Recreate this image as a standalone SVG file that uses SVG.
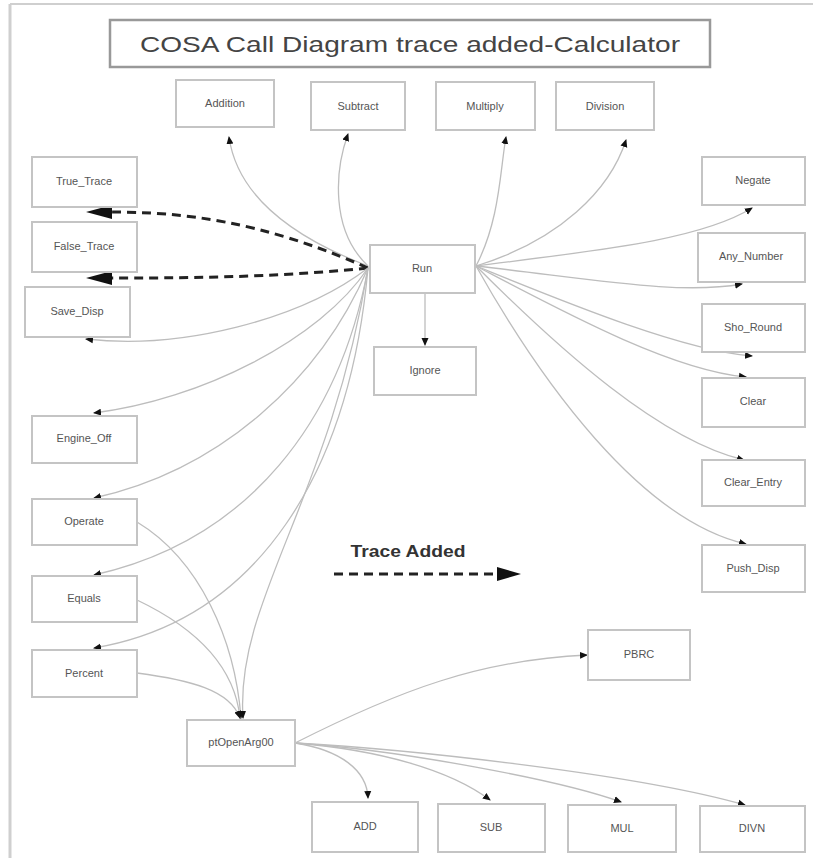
<svg xmlns="http://www.w3.org/2000/svg" width="813" height="858" viewBox="0 0 813 858">
<defs>
<style>
.n rect{fill:#fff;stroke:#c4c4c4;stroke-width:2}
.n text{font-family:"Liberation Sans",Arial,sans-serif;font-size:11px;fill:#555;text-anchor:middle}
.e path{fill:none;stroke:#bdbdbd;stroke-width:1.3}
.e path.t{stroke:#222;stroke-width:3;stroke-dasharray:9 6}
.e polygon{fill:#111}
</style>
<marker id="a" markerWidth="8" markerHeight="8" refX="7" refY="4" orient="auto" markerUnits="userSpaceOnUse"><path d="M0,0.5 L8,4 L0,7.5 Z" fill="#111"/></marker>
</defs>
<rect width="813" height="858" fill="#fff"/>
<line x1="10" y1="4" x2="10" y2="858" stroke="#cfcfcf" stroke-width="3"/>
<line x1="10" y1="4" x2="813" y2="4" stroke="#cfcfcf" stroke-width="2"/>
<g id="title" class="n"><rect x="110" y="20" width="600" height="47" style="stroke:#999;stroke-width:2.5"/><text x="410" y="52" textLength="540" lengthAdjust="spacingAndGlyphs" style="font-size:22px;fill:#444">COSA Call Diagram trace added-Calculator</text></g>
<g id="edges" class="e">
<path d="M368,266 C300,240 238,200 229,137" marker-end="url(#a)"/>
<path d="M368,266 C330,230 335,170 348,134" marker-end="url(#a)"/>
<path d="M476,266 C500,220 500,170 506,137" marker-end="url(#a)"/>
<path d="M476,266 C560,240 610,190 626,140" marker-end="url(#a)"/>
<path d="M476,266 C600,250 700,240 752,208" marker-end="url(#a)"/>
<path d="M476,266 C600,280 680,295 742,284" marker-end="url(#a)"/>
<path d="M476,266 C560,300 680,350 752,356" marker-end="url(#a)"/>
<path d="M476,266 C560,310 670,370 746,377" marker-end="url(#a)"/>
<path d="M476,266 C560,350 660,440 744,460" marker-end="url(#a)"/>
<path d="M476,266 C540,380 640,520 746,544" marker-end="url(#a)"/>
<path class="t" d="M368,268 C260,220 180,212 110,212"/>
<polygon points="86,212 112,205 112,219"/>
<path class="t" d="M368,268 C270,278 180,278 110,278"/>
<polygon points="86,278 112,271 112,285"/>
<path d="M368,268 C300,320 180,350 86,339" marker-end="url(#a)"/>
<path d="M368,268 C320,340 200,400 94,413" marker-end="url(#a)"/>
<path d="M368,268 C320,380 220,470 94,498" marker-end="url(#a)"/>
<path d="M368,268 C340,420 250,540 94,575" marker-end="url(#a)"/>
<path d="M368,268 C350,470 260,620 94,648" marker-end="url(#a)"/>
<path d="M368,268 C330,500 235,600 243,718" marker-end="url(#a)"/>
<path d="M425,293 L425,345" marker-end="url(#a)"/>
<path d="M137,522 C200,560 235,640 241,718" marker-end="url(#a)"/>
<path d="M137,600 C200,630 235,670 240,718" marker-end="url(#a)"/>
<path d="M137,673 C190,680 230,690 240,718" marker-end="url(#a)"/>
<path d="M295,743 C400,690 480,660 587,655" marker-end="url(#a)"/>
<path d="M295,743 C340,750 367,770 368,798" marker-end="url(#a)"/>
<path d="M295,743 C380,750 450,770 490,800" marker-end="url(#a)"/>
<path d="M295,743 C400,750 560,780 621,802" marker-end="url(#a)"/>
<path d="M295,743 C420,750 640,775 745,805" marker-end="url(#a)"/>
</g>
<g id="addition" class="n"><rect x="176" y="80" width="98" height="47"/><text x="225" y="107">Addition</text></g>
<g id="subtract" class="n"><rect x="311" y="82" width="94" height="48"/><text x="358" y="110">Subtract</text></g>
<g id="multiply" class="n"><rect x="436" y="82" width="99" height="48"/><text x="485" y="110">Multiply</text></g>
<g id="division" class="n"><rect x="556" y="82" width="98" height="48"/><text x="605" y="110">Division</text></g>
<g id="true_trace" class="n"><rect x="32" y="157" width="105" height="50"/><text x="84" y="185">True_Trace</text></g>
<g id="false_trace" class="n"><rect x="32" y="222" width="105" height="50"/><text x="84" y="250">False_Trace</text></g>
<g id="save_disp" class="n"><rect x="25" y="287" width="105" height="50"/><text x="77" y="315">Save_Disp</text></g>
<g id="run" class="n"><rect x="370" y="245" width="105" height="48"/><text x="422" y="272">Run</text></g>
<g id="ignore" class="n"><rect x="374" y="347" width="102" height="48"/><text x="425" y="374">Ignore</text></g>
<g id="negate" class="n"><rect x="702" y="157" width="103" height="48"/><text x="753" y="184">Negate</text></g>
<g id="any_number" class="n"><rect x="698" y="233" width="107" height="49"/><text x="751" y="260">Any_Number</text></g>
<g id="sho_round" class="n"><rect x="702" y="304" width="103" height="48"/><text x="753" y="331">Sho_Round</text></g>
<g id="clear" class="n"><rect x="702" y="378" width="103" height="49"/><text x="753" y="405">Clear</text></g>
<g id="clear_entry" class="n"><rect x="702" y="460" width="103" height="46"/><text x="753" y="486">Clear_Entry</text></g>
<g id="push_disp" class="n"><rect x="702" y="545" width="103" height="47"/><text x="753" y="572">Push_Disp</text></g>
<g id="engine_off" class="n"><rect x="32" y="416" width="105" height="47"/><text x="84" y="442">Engine_Off</text></g>
<g id="operate" class="n"><rect x="32" y="499" width="105" height="46"/><text x="84" y="525">Operate</text></g>
<g id="equals" class="n"><rect x="32" y="576" width="105" height="46"/><text x="84" y="602">Equals</text></g>
<g id="percent" class="n"><rect x="32" y="650" width="105" height="47"/><text x="84" y="677">Percent</text></g>
<g id="ptopenarg00" class="n"><rect x="187" y="720" width="108" height="46"/><text x="241" y="746">ptOpenArg00</text></g>
<g id="pbrc" class="n"><rect x="588" y="630" width="102" height="50"/><text x="639" y="658">PBRC</text></g>
<g id="add" class="n"><rect x="312" y="802" width="106" height="50"/><text x="365" y="830">ADD</text></g>
<g id="sub" class="n"><rect x="438" y="804" width="107" height="48"/><text x="491" y="831">SUB</text></g>
<g id="mul" class="n"><rect x="568" y="805" width="108" height="47"/><text x="622" y="832">MUL</text></g>
<g id="divn" class="n"><rect x="700" y="806" width="105" height="46"/><text x="752" y="832">DIVN</text></g>
<g id="legend">
<text x="408" y="557" textLength="115" lengthAdjust="spacingAndGlyphs" style="font-family:'Liberation Sans',Arial,sans-serif;font-size:17px;font-weight:bold;fill:#333;text-anchor:middle">Trace Added</text>
<path d="M334,574 L498,574" stroke="#222" stroke-width="3" stroke-dasharray="9 6" fill="none"/>
<path d="M497,567 L521,574 L497,581 Z" fill="#111"/>
</g>
</svg>
